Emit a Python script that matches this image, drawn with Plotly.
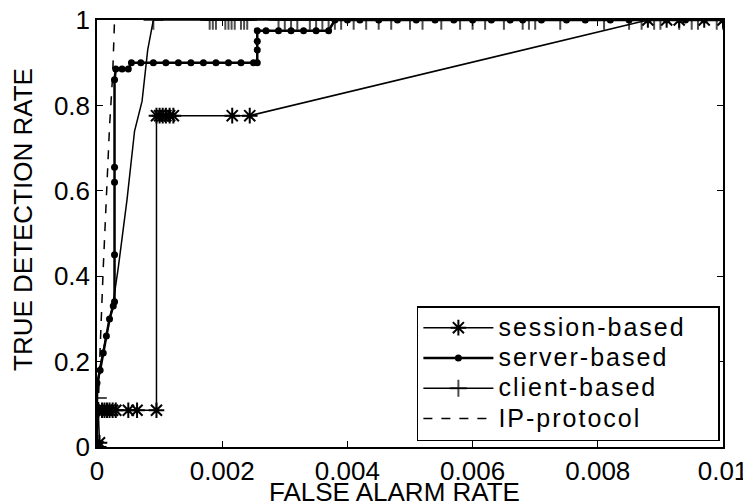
import plotly.graph_objects as go

# session-based (asterisks)
session_x = [0, 0.00002, 0.00004, 0.00002, 0.00008, 0.00012, 0.00016, 0.0002, 0.00025, 0.0003,
             0.0005, 0.00064, 0.00095, 0.00095, 0.001, 0.00105, 0.0011, 0.00116, 0.00122,
             0.00216, 0.00244, 0.0088, 0.0091, 0.0093, 0.0097, 0.01]
session_y = [0, 0, 0.01, 0.086, 0.086, 0.086, 0.086, 0.086, 0.086, 0.086,
             0.086, 0.086, 0.086, 0.776, 0.776, 0.776, 0.776, 0.776, 0.776,
             0.776, 0.776, 1, 1, 1, 1, 1]

# server-based (dots)
server_x = [0, 0, 0.00005, 0.0001, 0.00015, 0.0002, 0.00026, 0.00028, 0.00028, 0.00028, 0.00028,
            0.00028, 0.0003, 0.0004, 0.0005, 0.00055, 0.0007, 0.0009, 0.0011, 0.0013, 0.0015,
            0.0017, 0.0019, 0.0021, 0.0023, 0.0025, 0.00256, 0.00256, 0.00256, 0.00256,
            0.0027, 0.0029, 0.0031, 0.0033, 0.0035, 0.0037, 0.0038, 0.004, 0.0042, 0.0045,
            0.0048, 0.0051, 0.0054, 0.0057, 0.006, 0.0063, 0.0066, 0.0068, 0.0071, 0.0075,
            0.0078, 0.0082, 0.0085, 0.0088, 0.0091, 0.0094, 0.0097, 0.01]
server_y = [0, 0.15, 0.18, 0.22, 0.26, 0.3, 0.33, 0.34, 0.45, 0.62, 0.655,
            0.86, 0.885, 0.885, 0.885, 0.9, 0.9, 0.9, 0.9, 0.9, 0.9,
            0.9, 0.9, 0.9, 0.9, 0.9, 0.9, 0.93, 0.95, 0.975,
            0.975, 0.975, 0.975, 0.975, 0.975, 0.975, 1, 1, 1, 1,
            1, 1, 1, 1, 1, 1, 1, 1, 1, 1,
            1, 1, 1, 1, 1, 1, 1, 1]

# client-based (plus)
client_x = [0, 0, 0.00005, 0.00026, 0.00034, 0.00048, 0.0006, 0.00072, 0.00081, 0.0009,
            0.0018, 0.00185, 0.0019, 0.00205, 0.0021, 0.00215, 0.0022, 0.0023, 0.00235, 0.0024,
            0.0029, 0.003, 0.0031, 0.0032, 0.0034, 0.0035, 0.0036, 0.0037, 0.0038, 0.0039,
            0.0041, 0.0043, 0.0045, 0.0047, 0.005, 0.0052, 0.0055, 0.0058, 0.0060, 0.0062,
            0.0065, 0.0068, 0.0069, 0.0070, 0.0074, 0.0081, 0.0085, 0.0087, 0.0089, 0.0090,
            0.0093, 0.0095, 0.0096, 0.0099, 0.01]
client_y = [0, 0.115, 0.19, 0.34, 0.42, 0.58, 0.74, 0.81, 0.93, 1,
            1, 1, 1, 1, 1, 1, 1, 1, 1, 1,
            1, 1, 1, 1, 1, 1, 1, 1, 1, 1,
            1, 1, 1, 1, 1, 1, 1, 1, 1, 1,
            1, 1, 1, 1, 1, 1, 1, 1, 1, 1,
            1, 1, 1, 1, 1]
# the rising part of the client curve shows no markers
client_marker_shown = [1, 1, 0, 0, 0, 0, 0, 0, 0, 1] + [1] * 45

# IP-protocol (dashed)
ip_x = [0, 0.00002, 0.00005, 0.0001, 0.00016, 0.0002, 0.00025, 0.00028]
ip_y = [0, 0.1, 0.23, 0.42, 0.62, 0.75, 0.87, 1]

x_ticks = [0, 0.002, 0.004, 0.006, 0.008, 0.01]
x_tick_labels = ["0", "0.002", "0.004", "0.006", "0.008", "0.01"]
y_ticks = [0, 0.2, 0.4, 0.6, 0.8, 1]
y_tick_labels = ["0", "0.2", "0.4", "0.6", "0.8", "1"]

FONT = "Liberation Sans, Arial, sans-serif"
SP = "letter-spacing:2px;font-size:25px"


def legend_label(text, pad=""):
    return f'<span style="{SP}">{text}{pad}</span>'


fig = go.Figure()
fig.add_trace(go.Scatter(x=session_x, y=session_y, mode="lines+markers",
                         name=legend_label("session-based", "&nbsp;&nbsp;&nbsp;"),
                         line=dict(color="black", width=1.5),
                         marker=dict(symbol="asterisk-open", size=13, color="black",
                                     line=dict(color="black", width=2))))
fig.add_trace(go.Scatter(x=server_x, y=server_y, mode="lines+markers",
                         name=legend_label("server-based"),
                         line=dict(color="black", width=2.5),
                         marker=dict(symbol="circle", size=7, color="black")))
fig.add_trace(go.Scatter(x=client_x, y=client_y, mode="lines+markers",
                         name=legend_label("client-based"),
                         line=dict(color="black", width=1.5),
                         marker=dict(symbol="cross-thin-open", color="black",
                                     size=[14 * s for s in client_marker_shown],
                                     line=dict(color="black", width=2))))
fig.add_trace(go.Scatter(x=ip_x, y=ip_y, mode="lines",
                         name=legend_label("IP-protocol"),
                         line=dict(color="black", width=1.5, dash="dash")))

axis_common = dict(showline=True, linecolor="black", linewidth=1.5, mirror="ticks",
                   ticks="inside", ticklen=6, tickcolor="black", showgrid=False,
                   zeroline=False, automargin=False, ticklabeloverflow="allow",
                   tickfont=dict(family=FONT, size=26, color="black"))

# page has an 8px body margin; plot area targeted at page x 97-723, y 20-447
fig.update_layout(
    width=743, height=496,
    margin=dict(l=89, r=28, t=12, b=57),
    paper_bgcolor="white", plot_bgcolor="white",
    font=dict(family=FONT, color="black"),
    xaxis=dict(range=[0, 0.01], tickvals=x_ticks, ticktext=x_tick_labels, **axis_common),
    yaxis=dict(range=[0, 1], tickvals=y_ticks, ticktext=y_tick_labels, **axis_common),
    legend=dict(x=0.511, y=0.014, xanchor="left", yanchor="bottom",
                bordercolor="black", borderwidth=1.5, bgcolor="white",
                font=dict(family=FONT, size=21, color="black"),
                tracegroupgap=0, itemwidth=70),
    showlegend=True,
    annotations=[
        dict(text="FALSE ALARM RATE", xref="paper", yref="paper", x=0.476, y=0,
             xanchor="center", yanchor="top", yshift=-28, showarrow=False,
             font=dict(family=FONT, size=26, color="black")),
        dict(text="TRUE DETECTION RATE", xref="paper", yref="paper", x=-0.118, y=0.532,
             xanchor="center", yanchor="middle", textangle=-90, showarrow=False,
             font=dict(family=FONT, size=26, color="black")),
    ],
)

fig.write_html("out.html")
